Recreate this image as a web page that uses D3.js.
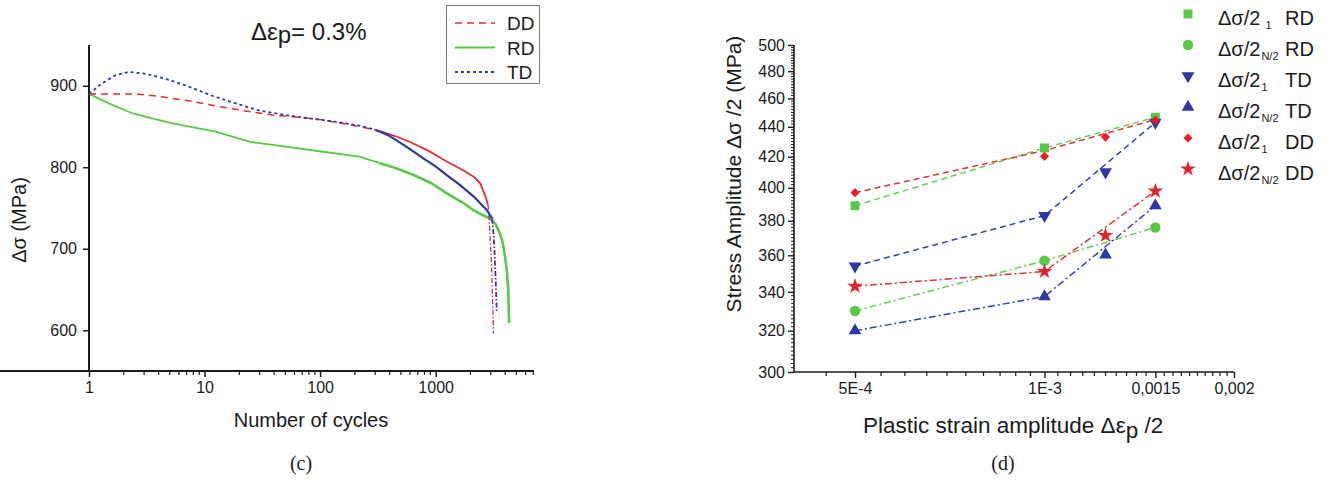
<!DOCTYPE html>
<html><head><meta charset="utf-8">
<script src="https://cdn.jsdelivr.net/npm/d3@7"></script>
<style>
body{margin:0;background:#fff}
svg text{font-family:"Liberation Sans",Arial,sans-serif;fill:#1a1a1a}
</style>
</head><body>
<svg id="c" width="1326" height="483"></svg>
<script>
// ---------- Left chart (c): Δσ vs number of cycles ----------
const leftXTicks = [1, 10, 100, 1000];
const leftYTicks = [600, 700, 800, 900];
const leftTitle = "= 0.3%";

// DD (red dashed, dense later, dash-dot final drop)
const ddCycles1 = [1, 2, 2.7, 4, 7, 14, 25, 39, 70, 106, 218, 335];
const ddValues1 = [890, 890, 889.5, 887, 882, 874, 868, 864, 861, 858, 850, 844];
const ddCycles2 = [335, 450, 600, 846, 1250, 1700, 2137, 2440, 2700, 2840];
const ddValues2 = [844, 838, 831, 821, 807, 797, 788.5, 780, 764, 754];
const ddCycles3 = [2840, 2930, 3050, 3170];
const ddValues3 = [754, 727, 678, 596];

// RD (green solid)
const rdCycles = [1, 1.5, 2.4, 3.5, 5.2, 8, 12.4, 18, 25, 52, 106, 218, 331, 450, 645, 900, 1250, 1700, 2140, 2500, 2960, 3300, 3600, 3800, 3990, 4150, 4250, 4330];
const rdValues = [890, 878, 866, 860, 854, 849, 843.6, 837, 831, 825, 819, 813, 805, 799, 790.5, 781, 768, 757, 747, 742, 737, 730, 719, 708, 690, 670, 649, 609];

// TD (blue dotted, dense later, dash-dot final drop)
const tdCycles1 = [1, 1.3, 1.7, 2.2, 3, 4.5, 7, 12, 20, 29, 50, 92, 150, 219, 300];
const tdValues1 = [890, 903, 913, 917, 915, 909, 900, 887, 877, 870, 864, 859, 855, 851, 846];
const tdCycles2 = [300, 380, 470, 604, 800, 1000, 1256, 1600, 2137, 2500, 2790, 3085];
const tdValues2 = [846, 840, 832, 822, 810, 801, 790, 779, 764, 754, 747, 737];
const tdCycles3 = [3085, 3180, 3250, 3300, 3350, 3380];
const tdValues3 = [737, 715, 690, 665, 640, 622];

const leftLegend = ["DD", "RD", "TD"];

// ---------- Right chart (d): stress amplitude vs plastic strain amplitude ----------
const strains = [5e-4, 1e-3, 1.25e-3, 1.5e-3];
const lineStrains = [5e-4, 1e-3, 1.5e-3];
const rightXTicks = [5e-4, 1e-3, 1.5e-3, 2e-3];
const rightXTickLabels = ["5E-4", "1E-3", "0,0015", "0,002"];
const rightYTicks = [300, 320, 340, 360, 380, 400, 420, 440, 460, 480, 500];

const rd1Points = [389, 425.7, null, 446.6];
const rdN2Points = [330, 357, null, 376];
const td1Points = [354, 383, 410, 443];
const tdN2Points = [320, 337.5, 360.3, 389];
const dd1Points = [397, 420.2, 433, 444.5];
const ddN2Points = [343, 351, 371.3, 398];

const rd1Line = [389, 425.7, 446.6];
const rdN2Line = [330, 357, 376];
const td1Line = [354, 383, 443];
const tdN2Line = [320, 337.5, 389];
const dd1Line = [397, 424, 445];
const ddN2Line = [343, 351, 398];

const rightLegendSubs = ["1", "N/2", "1", "N/2", "1", "N/2"];
const rightLegendNames = ["RD", "RD", "TD", "TD", "DD", "DD"];

// ---------- drawing ----------
const svg = d3.select("#c");
const RED = "#dc2f34", GREEN = "#58c944", BLUE = "#2b38a6";

// Left scales
const xL = d3.scaleLog().domain([1, 7100]).range([89, 534]);
const yL = d3.scaleLinear().domain([550, 950]).range([371, 45]);
const gL = svg.append("g");

// axes
const axL = gL.append("g").attr("transform", "translate(0,371)")
  .call(d3.axisBottom(xL).tickValues(leftXTicks).tickFormat(d3.format("d")).tickSize(6).tickSizeOuter(0).tickPadding(5));
const minorL = [];
for (let e = 0; e <= 3; e++) for (let m = 2; m <= 9; m++) { const v = m * Math.pow(10, e); if (v <= 7000) minorL.push(v); }
axL.selectAll(".minor").data(minorL).join("line").attr("class", "minor")
  .attr("x1", d => xL(d)).attr("x2", d => xL(d)).attr("y1", 0).attr("y2", 4).attr("stroke", "#1a1a1a").attr("stroke-width", 1.2);
const ayL = gL.append("g").attr("transform", "translate(89,0)")
  .call(d3.axisLeft(yL).tickValues(leftYTicks).tickSize(6).tickSizeOuter(0).tickPadding(6));
[axL, ayL].forEach(a => {
  a.select(".domain").attr("stroke", "#1a1a1a").attr("stroke-width", 2);
  a.selectAll(".tick line").attr("stroke", "#1a1a1a").attr("stroke-width", 1.5);
  a.selectAll(".tick text").style("font-size", "16px").style("font-family", "'Liberation Sans',Arial,sans-serif").attr("fill", "#1a1a1a");
});
ayL.select(".domain").attr("d", "M0,371V45");
axL.select(".domain").attr("d", "M0,0H534");

const lineL = d3.line().x(d => xL(d[0])).y(d => yL(d[1]));
const zip = (a, b) => a.map((v, i) => [v, b[i]]);
function pathL(c, v, color, w, dash) {
  gL.append("path").datum(zip(c, v)).attr("d", lineL).attr("fill", "none")
    .attr("stroke", color).attr("stroke-width", w).attr("stroke-dasharray", dash || null);
}
// RD
pathL(rdCycles.slice(0, 13), rdValues.slice(0, 13), GREEN, 1.8);
pathL(rdCycles.slice(12), rdValues.slice(12), GREEN, 2.6);
// DD
pathL(ddCycles1, ddValues1, RED, 1.5, "7,5");
pathL(ddCycles2, ddValues2, RED, 1.8);
pathL(ddCycles3, ddValues3, RED, 1.3, "5,2,1.5,2");
// TD
pathL(tdCycles1, tdValues1, BLUE, 1.8, "3,3");
pathL(tdCycles2, tdValues2, BLUE, 2.2);
pathL(tdCycles3, tdValues3, BLUE, 1.8, "5,2,1.5,2");

// left labels
gL.append("text").attr("x", 311).attr("y", 427).attr("text-anchor", "middle").style("font-size", "20px").text("Number of cycles");
gL.append("text").attr("transform", "translate(26,220) rotate(-90)").attr("text-anchor", "middle").style("font-size", "20px").text("Δσ (MPa)");
const tt = gL.append("text").attr("x", 251).attr("y", 40).style("font-size", "24px");
tt.append("tspan").text("Δε");
tt.append("tspan").attr("dy", 3).text("p");
tt.append("tspan").attr("dy", -3).text(leftTitle);

// left legend
gL.append("rect").attr("x", 446.5).attr("y", 5.5).attr("width", 93).attr("height", 78).attr("fill", "#fff").attr("stroke", "#777").attr("stroke-width", 1);
const legStyles = [[RED, "7,5", 1.5], [GREEN, null, 1.8], [BLUE, "3,3", 1.8]];
leftLegend.forEach((name, i) => {
  const y = 23 + i * 24.5;
  gL.append("line").attr("x1", 455).attr("x2", 495).attr("y1", y).attr("y2", y)
    .attr("stroke", legStyles[i][0]).attr("stroke-dasharray", legStyles[i][1]).attr("stroke-width", legStyles[i][2]);
  gL.append("text").attr("x", 507).attr("y", y + 7).style("font-size", "19px").text(name);
});

// caption
svg.append("text").attr("x", 301).attr("y", 470).attr("text-anchor", "middle")
  .style("font-family", "'Liberation Serif','Times New Roman',serif").style("font-size", "20px").text("(c)");

// ---------- Right chart ----------
const xR = d3.scaleLog().domain([4e-4, 2e-3]).range([794, 1234]);
const yR = d3.scaleLog().domain([300, 500]).range([372, 45]);
const gR = svg.append("g");
const axR = gR.append("g").attr("transform", "translate(0,372)")
  .call(d3.axisBottom(xR).tickValues(rightXTicks).tickFormat((d, i) => rightXTickLabels[i]).tickSize(6).tickSizeOuter(0).tickPadding(5));
const minorRX = d3.range(9, 40).map(k => k * 5e-5).filter(v => !rightXTicks.some(t => Math.abs(t - v) < 1e-9));
axR.selectAll(".minor").data(minorRX).join("line").attr("class", "minor")
  .attr("x1", d => xR(d)).attr("x2", d => xR(d)).attr("y1", 0).attr("y2", 4).attr("stroke", "#1a1a1a").attr("stroke-width", 1.2);
const ayR = gR.append("g").attr("transform", "translate(794,0)")
  .call(d3.axisLeft(yR).tickValues(rightYTicks).tickFormat(d3.format("d")).tickSize(6).tickSizeOuter(0).tickPadding(3));
const minorRY = d3.range(302, 500, 2).filter(v => v % 20 !== 0);
ayR.selectAll(".minor").data(minorRY).join("line").attr("class", "minor")
  .attr("y1", d => yR(d)).attr("y2", d => yR(d)).attr("x1", 0).attr("x2", -3).attr("stroke", "#1a1a1a").attr("stroke-width", 1);
[axR, ayR].forEach(a => {
  a.select(".domain").attr("stroke", "#1a1a1a").attr("stroke-width", 1.6);
  a.selectAll(".tick line").attr("stroke", "#1a1a1a").attr("stroke-width", 1.4);
  a.selectAll(".tick text").style("font-size", "16px").style("font-family", "'Liberation Sans',Arial,sans-serif").attr("fill", "#1a1a1a");
});
ayR.select(".domain").attr("d", "M0,372V45");
axR.select(".domain").attr("d", "M794,0H1234");

const lineR = d3.line().x(d => xR(d[0])).y(d => yR(d[1]));
const seriesR = [
  { pts: rd1Points, line: rd1Line, color: GREEN, lc: "#63cf52", sym: d3.symbolSquare, size: 80, dash: "6,4", rot: 0 },
  { pts: rdN2Points, line: rdN2Line, color: GREEN, lc: "#63cf52", sym: d3.symbolCircle, size: 85, dash: "7,3,2,3", rot: 0 },
  { pts: td1Points, line: td1Line, color: BLUE, lc: "#3040b0", sym: d3.symbolTriangle, size: 70, dash: "6,4", rot: 180 },
  { pts: tdN2Points, line: tdN2Line, color: BLUE, lc: "#3040b0", sym: d3.symbolTriangle, size: 70, dash: "7,3,2,3", rot: 0 },
  { pts: dd1Points, line: dd1Line, color: "#e3222a", lc: "#dd3333", sym: d3.symbolSquare, size: 42, dash: "6,4", rot: 45 },
  { pts: ddN2Points, line: ddN2Line, color: "#e3222a", lc: "#dd3333", sym: d3.symbolStar, size: 75, dash: "7,3,2,3", rot: 0 }
];
seriesR.forEach(s => {
  gR.append("path").datum(zip(lineStrains, s.line)).attr("d", lineR).attr("fill", "none")
    .attr("stroke", s.lc).attr("stroke-width", 1.5).attr("stroke-dasharray", s.dash);
});
seriesR.forEach(s => {
  gR.selectAll(null).data(zip(strains, s.pts).filter(d => d[1] != null)).join("path")
    .attr("d", d3.symbol(s.sym, s.size))
    .attr("transform", d => `translate(${xR(d[0])},${yR(d[1])}) rotate(${s.rot})`)
    .attr("fill", s.color);
});

// right labels
const xl = gR.append("text").attr("x", 863).attr("y", 433).style("font-size", "22.5px");
xl.append("tspan").text("Plastic strain amplitude Δε");
xl.append("tspan").attr("dy", 5).text("p");
xl.append("tspan").attr("dy", -5).text(" /2");
gR.append("text").attr("transform", "translate(741,174) rotate(-90)").attr("text-anchor", "middle").style("font-size", "21px").text("Stress Amplitude Δσ /2 (MPa)");

// right legend
seriesR.forEach((s, i) => {
  const y = 14 + i * 31;
  gR.append("path").attr("d", d3.symbol(s.sym, s.size)).attr("transform", `translate(1188,${y}) rotate(${s.rot})`).attr("fill", s.color);
  const t = gR.append("text").attr("x", 1218).attr("y", y + 11).style("font-size", "20px");
  t.append("tspan").text("Δσ/2");
  t.append("tspan").attr("dy", 4).attr("dx", i === 0 ? 5 : 1).style("font-size", "11px").text(rightLegendSubs[i]);
  gR.append("text").attr("x", 1285).attr("y", y + 11).style("font-size", "20px").text(rightLegendNames[i]);
});

svg.append("text").attr("x", 1003).attr("y", 470).attr("text-anchor", "middle")
  .style("font-family", "'Liberation Serif','Times New Roman',serif").style("font-size", "20px").text("(d)");
</script>
</body></html>
